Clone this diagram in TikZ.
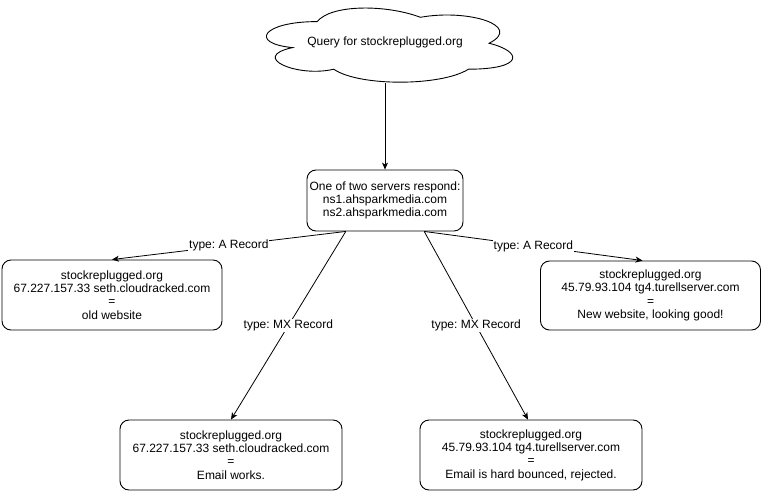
\documentclass[tikz,border=0pt]{standalone}
\usepackage{fontspec}
\setmainfont{Liberation Sans}
\usetikzlibrary{arrows.meta,calc}
\frenchspacing
\begin{document}
\begin{tikzpicture}[x=1bp,y=-1bp,
  txt/.style={font=\fontsize{12bp}{13.3bp}\selectfont},
  box/.style={txt, draw, rounded corners=9bp, align=center, inner sep=0pt, line width=0.9bp},
  lbl/.style={txt, fill=white, inner sep=0.8bp},
  arr/.style={-{Stealth[length=7bp,width=6bp,inset=2bp]}, line width=0.8bp}]
\useasboundingbox (0,0) rectangle (763,491);
% cloud
\draw[line width=0.9bp] (317.25,21.6)
  .. controls (262.25,21.6) and (248.5,43.25) .. (292.5,47.6)
  .. controls (248.5,57.1) and (298,77.85) .. (333.75,69.2)
  .. controls (358.5,86.5) and (441,86.5) .. (468.5,69.2)
  .. controls (523.5,69.2) and (523.5,51.9) .. (489.1,43.25)
  .. controls (523.5,25.95) and (468.5,8.65) .. (420.4,17.3)
  .. controls (386,4.3) and (331,4.3) .. (317.25,21.6) -- cycle;
\node[txt, minimum width=150bp, minimum height=82bp, inner sep=0pt] (q) at (385,42) {Query for stockreplugged.org};
% boxes
\node[box, minimum width=156bp, minimum height=61bp] (c) at (385,200.5)
  {One of two servers respond:\\ns1.ahsparkmedia.com\\ns2.ahsparkmedia.com};
\node[box, minimum width=220bp, minimum height=70bp] (l) at (112,295)
  {stockreplugged.org\\67.227.157.33 seth.cloudracked.com\\=\\old website};
\node[box, minimum width=220bp, minimum height=69bp] (r) at (650.5,295.5)
  {stockreplugged.org\\45.79.93.104 tg4.turellserver.com\\=\\New website, looking good!};
\node[box, minimum width=222bp, minimum height=70bp] (bl) at (231,455)
  {stockreplugged.org\\67.227.157.33 seth.cloudracked.com\\=\\Email works.};
\node[box, minimum width=222bp, minimum height=70bp] (br) at (531,455)
  {stockreplugged.org\\45.79.93.104 tg4.turellserver.com\\=\\Email is hard bounced, rejected.};
% connectors
\draw[arr] (q.south) -- (c.north);
\coordinate (cl) at ($(c.south west)!0.25!(c.south east)$);
\coordinate (cr) at ($(c.south west)!0.75!(c.south east)$);
\draw[arr] (cl) -- node[lbl, pos=0.5] (la) {type: A Record} (l.north);
\draw[arr] (cr) -- node[lbl, pos=0.5] (ra) {type: A Record} ($(r.north)+(-8,0)$);
\draw[arr] (cl) -- node[lbl, pos=0.5] (lm) {type: MX Record} (bl.north);
\draw[arr] (cr) -- node[lbl, pos=0.5] (rm) {type: MX Record} ($(br.north)+(-3,0)$);
\end{tikzpicture}
\end{document}
